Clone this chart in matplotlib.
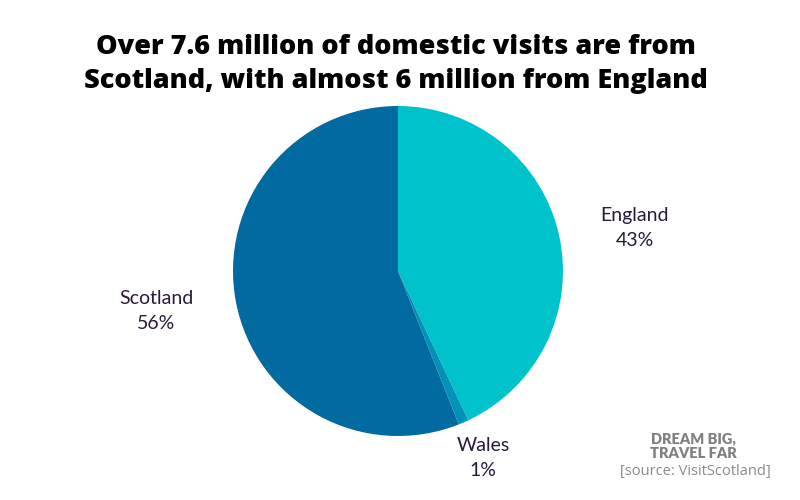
import matplotlib.pyplot as plt

labels = ["England", "Wales", "Scotland"]
shares = [43, 1, 56]
colors = ["#00C2CB", "#0092B8", "#006AA1"]

fig = plt.figure(figsize=(8, 5), dpi=100)
ax = fig.add_axes([233 / 800, 1 - 436 / 500, 330 / 800, 330 / 500])
wedges, _ = ax.pie(shares, colors=colors, startangle=90, counterclock=False)
ax.set_xlim(-1, 1)
ax.set_ylim(-1, 1)
ax.set_aspect("equal")

lab_pos = {"England": (635, 228), "Wales": (483, 458), "Scotland": (156, 311)}
for name, s in zip(labels, shares):
    x, y = lab_pos[name]
    fig.text(x / 800, 1 - y / 500, f"{name}\n{s}%", ha="center", va="center",
             fontsize=14, color="#2A1A3A", family="Lato", linespacing=1.6)

fig.text(0.495, 1 - 64 / 500, "Over 7.6 million of domestic visits are from\nScotland, with almost 6 million from England",
         ha="center", va="center", fontsize=19.5, fontweight="heavy", family="Open Sans", linespacing=1.35)
fig.text(693 / 800, 1 - 446 / 500, "DREAM BIG,\nTRAVEL FAR", ha="center", va="center",
         fontsize=10.5, fontweight="heavy", color="#808080", family="Lato", linespacing=1.2)
fig.text(695 / 800, 1 - 471 / 500, "[source: VisitScotland]", ha="center", va="center",
         fontsize=10.5, color="#8A8A8A", family="Open Sans")
fig.savefig("out.png")
